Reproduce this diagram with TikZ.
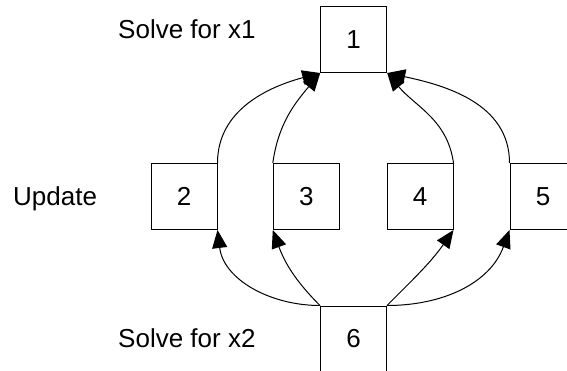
\documentclass[tikz,border=0pt]{standalone}
\usepackage{fontspec}
\setmainfont{Liberation Sans}
\usetikzlibrary{arrows.meta}
\begin{document}
\begin{tikzpicture}[x=1pt,y=-1pt,
  box/.style={draw, line width=1pt, minimum width=66pt, minimum height=66pt, inner sep=0pt, font=\fontsize{26}{30}\selectfont},
  lbl/.style={inner sep=0pt, anchor=base west, font=\fontsize{26}{30}\selectfont},
  conn/.style={line width=1pt, -{Triangle[length=18pt,width=15pt]}}]
\useasboundingbox (0,0) rectangle (567,370);
\clip (0,0) rectangle (567,370);
\node[box] (b1) at (353.7,39.5) {1};
\node[box] (b2) at (184,196.5) {2};
\node[box] (b3) at (306.3,196.5) {3};
\node[box] (b4) at (420,196.5) {4};
\node[box] (b5) at (543,196.5) {5};
\node[box] (b6) at (353.5,339) {6};
\node[lbl] (t1) at (118,38) {Solve for x1};
\node[lbl] (t2) at (13,205) {Update};
\node[lbl] (t3) at (118,347) {Solve for x2};
\draw[conn] (b2.north east) to[out=90, in=195] (b1.south west);
\draw[conn] (b3.north west) to[out=82, in=230] (b1.south west);
\draw[conn] (b4.north east) to[out=98, in=-50] (b1.south east);
\draw[conn] (b5.north west) to[out=90, in=-12] (b1.south east);
\draw[conn] (b6.north west) to[out=180, in=277] (b2.south east);
\draw[conn] (b6.north west) to[out=135, in=290] (b3.south west);
\draw[conn] (b6.north east) to[out=45, in=235] (b4.south east);
\draw[conn] (b6.north east) to[out=0, in=250] (b5.south west);
\end{tikzpicture}
\end{document}
